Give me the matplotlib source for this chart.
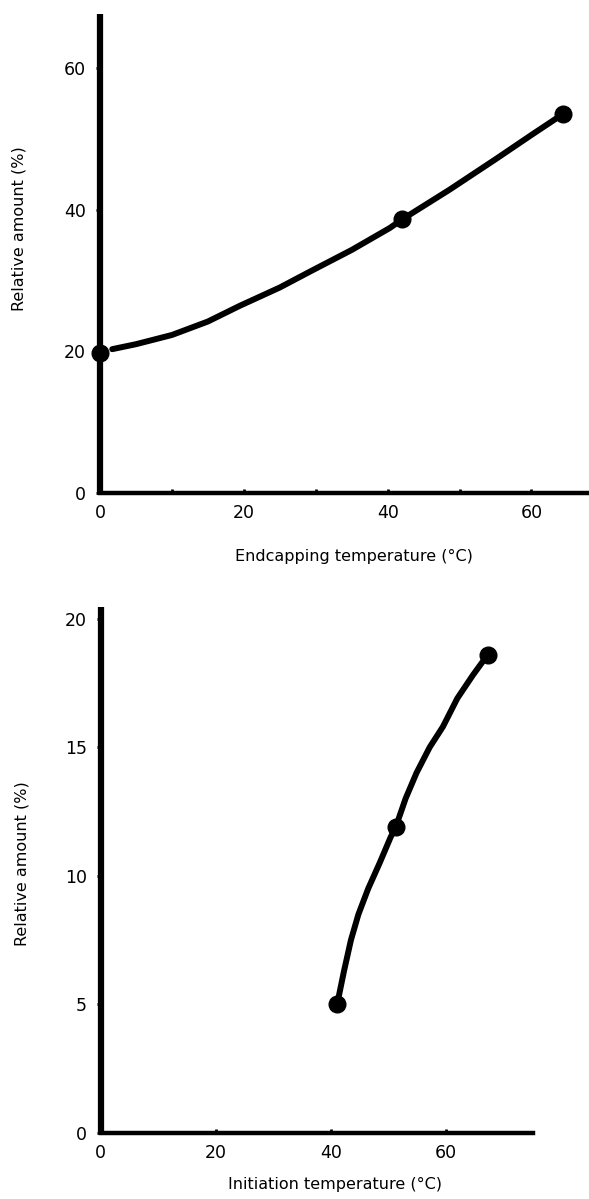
import matplotlib
matplotlib.use("Agg")
import matplotlib.pyplot as plt

# endcapping panel
endcap_temp = [0, 42, 64.4]
endcap_amount = [19.8, 38.6, 53.5]
endcap_curve_x = [1.7, 5, 10, 15, 19.4, 25, 29.3, 35, 40.3, 42, 48.6, 55, 60.1, 64.4]
endcap_curve_y = [20.3, 21.0, 22.3, 24.2, 26.4, 29.0, 31.3, 34.3, 37.4, 38.6, 42.8, 47.1, 50.6, 53.5]

# initiation panel
init_temp = [41.1, 51.3, 67.3]
init_amount = [5.0, 11.9, 18.6]
init_curve_x = [41.1, 42.3, 43.5, 44.8, 46.5, 48.5, 50.4, 51.3, 53.0, 54.9, 57.2, 59.5, 62.0, 64.7, 67.3]
init_curve_y = [5.0, 6.3, 7.5, 8.5, 9.5, 10.5, 11.5, 11.9, 13.0, 14.0, 15.0, 15.8, 16.9, 17.8, 18.6]

plt.rcParams['font.family'] = ['DejaVu Sans']

fig = plt.figure(figsize=(5.89, 11.99), dpi=100)

W, H = 589, 1199


def make_axes(left, right, bottom, top):
    # pixel coords (top-left origin) -> figure fractions
    return fig.add_axes([left / W, 1 - bottom / H, (right - left) / W, (bottom - top) / H])


def style(ax):
    for s in ['top', 'right']:
        ax.spines[s].set_visible(False)
    ax.spines['left'].set_linewidth(4.5)
    ax.spines['bottom'].set_linewidth(3.2)
    ax.spines['left'].set_capstyle('butt')
    ax.tick_params(axis='y', direction='out', length=3, width=2, pad=7, labelsize=12.5)
    ax.tick_params(axis='x', which='both', direction='in', length=3, width=2, pad=8, labelsize=12.5)


# top panel
ax1 = make_axes(100, 589, 493, 14)
ax1.plot(endcap_curve_x, endcap_curve_y, color='black', lw=4.3, solid_capstyle='round')
ax1.plot(endcap_temp, endcap_amount, 'o', color='black', ms=12, clip_on=False)
ax1.set_xlim(0, 68.0)
ax1.set_ylim(0, 67.6)
ax1.set_xticks([0, 20, 40, 60])
ax1.set_xticks([10, 30, 50], minor=True)
ax1.set_yticks([0, 20, 40, 60])
style(ax1)
ax1.set_xlabel('Endcapping temperature (°C)', fontsize=11.5)
ax1.xaxis.set_label_coords(0.519, -0.117)
ax1.set_ylabel('Relative amount (%)', fontsize=11.5)
ax1.yaxis.set_label_coords(-0.15, 0.551)

# bottom panel
ax2 = make_axes(100.7, 532.7, 1133, 607)
ax2.plot(init_curve_x, init_curve_y, color='black', lw=4.3, solid_capstyle='round')
ax2.plot(init_temp, init_amount, 'o', color='black', ms=12, clip_on=False)
ax2.set_xlim(0, 75.1)
ax2.set_ylim(0, 20.45)
ax2.set_xticks([0, 20, 40, 60])
ax2.set_yticks([0, 5, 10, 15, 20])
style(ax2)
ax2.set_xlabel('Initiation temperature (°C)', fontsize=11.5)
ax2.xaxis.set_label_coords(0.542, -0.083)
ax2.set_ylabel('Relative amount (%)', fontsize=11.5)
ax2.yaxis.set_label_coords(-0.165, 0.513)

fig.savefig('out.png', dpi=100)
